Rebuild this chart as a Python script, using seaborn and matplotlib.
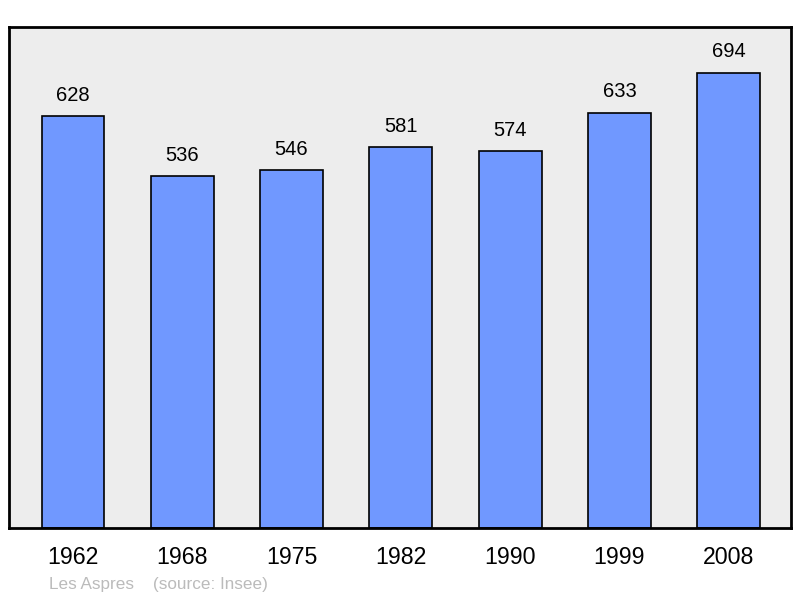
import matplotlib
matplotlib.use("Agg")
import matplotlib.pyplot as plt
import seaborn as sns
import pandas as pd

years = ["1962", "1968", "1975", "1982", "1990", "1999", "2008"]
population = [628, 536, 546, 581, 574, 633, 694]
footnote_place = "Les Aspres"
footnote_source = "(source: Insee)"

sns.set_theme(style="white")
plt.rcParams["font.family"] = ["Liberation Sans", "DejaVu Sans"]

df = pd.DataFrame({"year": years, "pop": population})

fig = plt.figure(figsize=(8, 5.98), dpi=100)
ax = fig.add_axes([9/800, 70/598, 782/800, 501/598])
ax.set_facecolor("#ededed")

sns.barplot(data=df, x="year", y="pop", ax=ax, color="#7098ff", saturation=1,
            width=0.575, edgecolor="black", linewidth=1.2)

ax.set_xlim(-0.585, 6.57)
ax.set_ylim(0, max(population) * 1.1)
ax.set_yticks([])
ax.set_xlabel("")
ax.set_ylabel("")
ax.tick_params(axis="x", length=0, labelsize=16.7, pad=13, colors="black")

for i, v in enumerate(population):
    ax.annotate(str(v), (i, v), xytext=(0, 8), textcoords="offset points",
                ha="center", va="bottom", fontsize=14.5, color="black")

for s in ax.spines.values():
    s.set_visible(True)
    s.set_color("black")
    s.set_linewidth(2)

fig.text(49/800, 1 - 584/598, footnote_place, fontsize=12.3, color="#bbbbbb", va="center")
fig.text(153/800, 1 - 584/598, footnote_source, fontsize=12.3, color="#bbbbbb", va="center")

fig.savefig("out.png", dpi=100)
